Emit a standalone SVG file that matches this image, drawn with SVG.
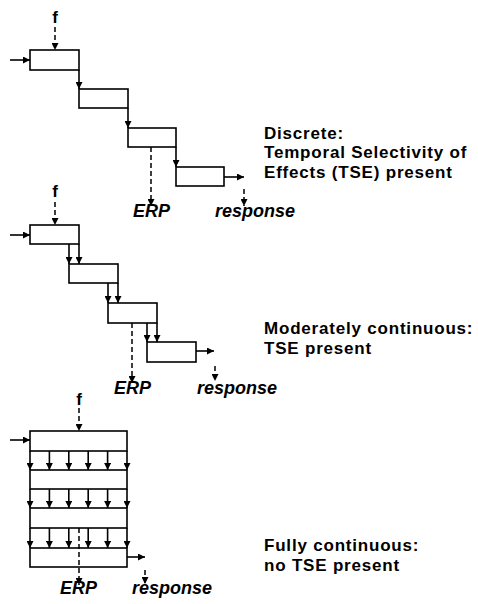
<svg xmlns="http://www.w3.org/2000/svg" width="478" height="604" viewBox="0 0 478 604">
<defs>
<marker id="ah" viewBox="0 0 10 10" refX="10" refY="5" markerWidth="7" markerHeight="7" markerUnits="userSpaceOnUse" orient="auto">
<path d="M0,0 L10,5 L0,10 Z" fill="#000"/>
</marker>
</defs>
<style>
.box{fill:#fff;stroke:#000;stroke-width:1.6}
.ln{fill:none;stroke:#000;stroke-width:1.6;marker-end:url(#ah)}
.dl{fill:none;stroke:#000;stroke-width:1.5;stroke-dasharray:5 3;marker-end:url(#ah)}
.t{font-family:"Liberation Sans",Arial,sans-serif;font-weight:bold;font-size:17px;letter-spacing:0.8px;fill:#000}
.f{font-family:"Liberation Sans",Arial,sans-serif;font-weight:bold;font-size:17px;fill:#000;text-anchor:middle}
.lab{font-family:"Liberation Sans",Arial,sans-serif;font-weight:bold;font-style:italic;font-size:18px;fill:#000}
</style>
<rect width="478" height="604" fill="#fff"/>

<!-- Panel 1: discrete -->
<g id="p1-box1"><rect class="box" x="30" y="50" width="49" height="20"/></g>
<g id="p1-box2"><rect class="box" x="79" y="89" width="49" height="19"/></g>
<g id="p1-box3"><rect class="box" x="128" y="128" width="48" height="19"/></g>
<g id="p1-box4"><rect class="box" x="176" y="167" width="48" height="19"/></g>
<g id="p1-f"><text class="f" x="55" y="23">f</text></g>
<g id="p1-erp"><text class="lab" x="133" y="217">ERP</text></g>
<g id="p1-response"><text class="lab" x="215" y="217">response</text></g>
<g id="p1-caption"><text class="t" x="264" y="138.5">Discrete:</text><text class="t" x="264" y="158">Temporal Selectivity of</text><text class="t" x="264" y="177.5">Effects (TSE) present</text></g>

<!-- Panel 2: moderately continuous -->
<g id="p2-box1"><rect class="box" x="30" y="225" width="49" height="19"/></g>
<g id="p2-box2"><rect class="box" x="69" y="264" width="49" height="19"/></g>
<g id="p2-box3"><rect class="box" x="108" y="303" width="49" height="20"/></g>
<g id="p2-box4"><rect class="box" x="147" y="342" width="49" height="20"/></g>
<g id="p2-f"><text class="f" x="55" y="197">f</text></g>
<g id="p2-erp"><text class="lab" x="114" y="394">ERP</text></g>
<g id="p2-response"><text class="lab" x="197" y="394">response</text></g>
<g id="p2-caption"><text class="t" x="264" y="334">Moderately continuous:</text><text class="t" x="264" y="353.5">TSE present</text></g>

<!-- Panel 3: fully continuous -->
<g id="p3-box1"><rect class="box" x="30" y="431" width="97" height="20"/></g>
<g id="p3-box2"><rect class="box" x="30" y="470" width="97" height="19"/></g>
<g id="p3-box3"><rect class="box" x="30" y="508" width="97" height="20"/></g>
<g id="p3-box4"><rect class="box" x="30" y="548" width="97" height="19"/></g>
<g id="p3-f"><text class="f" x="79" y="405">f</text></g>
<g id="p3-erp"><text class="lab" x="60" y="594">ERP</text></g>
<g id="p3-response"><text class="lab" x="132" y="594">response</text></g>
<g id="p3-caption"><text class="t" x="264" y="551">Fully continuous:</text><text class="t" x="264" y="570.5">no TSE present</text></g>

<g id="connectors">
<!-- panel 1 -->
<path class="dl" d="M55,27 V50"/>
<path class="ln" d="M10,60 H30"/>
<path class="ln" d="M79,70 V89"/>
<path class="ln" d="M128,108 V128"/>
<path class="ln" d="M176,147 V167"/>
<path class="ln" d="M224,177 H244"/>
<path class="dl" d="M151,147 V206"/>
<path class="dl" d="M244,189 V206"/>
<!-- panel 2 -->
<path class="dl" d="M55,202 V225"/>
<path class="ln" d="M10,235 H30"/>
<path class="ln" d="M69,244 V264"/>
<path class="ln" d="M79,244 V264"/>
<path class="ln" d="M108,283 V303"/>
<path class="ln" d="M118,283 V303"/>
<path class="ln" d="M147,323 V342"/>
<path class="ln" d="M157,323 V342"/>
<path class="ln" d="M196,351 H214"/>
<path class="dl" d="M132,323 V383"/>
<path class="dl" d="M215,366 V381"/>
<!-- panel 3 -->
<path class="dl" d="M79,408 V431"/>
<path class="ln" d="M10,440 H30"/>
<path class="ln" d="M30,451 V470"/><path class="ln" d="M49.4,451 V470"/><path class="ln" d="M68.8,451 V470"/><path class="ln" d="M88.2,451 V470"/><path class="ln" d="M107.6,451 V470"/><path class="ln" d="M127,451 V470"/>
<path class="ln" d="M30,489 V508"/><path class="ln" d="M49.4,489 V508"/><path class="ln" d="M68.8,489 V508"/><path class="ln" d="M88.2,489 V508"/><path class="ln" d="M107.6,489 V508"/><path class="ln" d="M127,489 V508"/>
<path class="ln" d="M30,528 V548"/><path class="ln" d="M49.4,528 V548"/><path class="ln" d="M68.8,528 V548"/><path class="ln" d="M88.2,528 V548"/><path class="ln" d="M107.6,528 V548"/><path class="ln" d="M127,528 V548"/>
<path class="ln" d="M127,557 H145"/>
<path class="dl" d="M79,528 V585"/>
<path class="dl" d="M145,570 V584"/>
</g>
</svg>
